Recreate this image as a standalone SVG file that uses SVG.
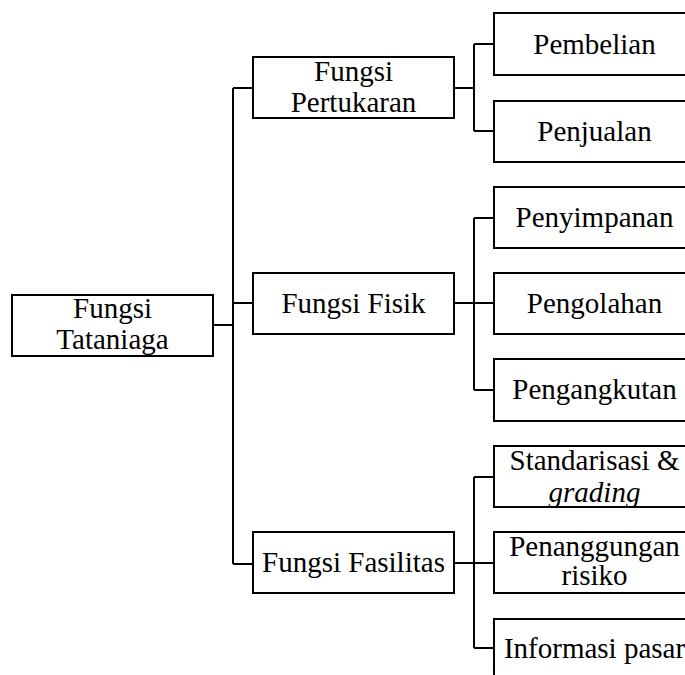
<svg xmlns="http://www.w3.org/2000/svg" width="685" height="675" viewBox="0 0 685 675">
<style>
.box{fill:#fff;stroke:#000;stroke-width:2}
.ln{fill:none;stroke:#000;stroke-width:2}
text{font-size:29px;fill:#000;text-anchor:middle}
.it{font-style:italic}
</style>
<rect width="685" height="675" fill="#fff"/>
<g id="connectors">
<path class="ln" d="M213,325H233M233,88V564M233,88H253M233,303H253M233,564H253"/>
<path class="ln" d="M454,88H474M474,44V131M474,44H494M474,131H494"/>
<path class="ln" d="M454,303H494M474,218V390M474,218H494M474,390H494"/>
<path class="ln" d="M454,563H494M474,477V648M474,477H494M474,648H494"/>
</g>
<g font-family="Liberation Serif, Times New Roman, serif">
<g id="n-tataniaga"><rect class="box" x="12" y="295" width="201" height="61"/><text x="112.5" y="318">Fungsi</text><text x="112.5" y="349">Tataniaga</text></g>
<g id="n-pertukaran"><rect class="box" x="253" y="57" width="201" height="61"/><text x="353.5" y="81">Fungsi</text><text x="353.5" y="111.5">Pertukaran</text></g>
<g id="n-fisik"><rect class="box" x="253" y="273" width="201" height="61"/><text x="353.5" y="313">Fungsi Fisik</text></g>
<g id="n-fasilitas"><rect class="box" x="253" y="532" width="201" height="61"/><text x="353.5" y="572">Fungsi Fasilitas</text></g>
<g id="n-pembelian"><rect class="box" x="494" y="13" width="201" height="62"/><text x="594.5" y="53.5">Pembelian</text></g>
<g id="n-penjualan"><rect class="box" x="494" y="101" width="201" height="61"/><text x="594.5" y="140.5">Penjualan</text></g>
<g id="n-penyimpanan"><rect class="box" x="494" y="187" width="201" height="61"/><text x="594.5" y="227">Penyimpanan</text></g>
<g id="n-pengolahan"><rect class="box" x="494" y="273" width="201" height="61"/><text x="594.5" y="313">Pengolahan</text></g>
<g id="n-pengangkutan"><rect class="box" x="494" y="359" width="201" height="62"/><text x="594.5" y="399">Pengangkutan</text></g>
<g id="n-standarisasi"><rect class="box" x="494" y="446" width="201" height="61"/><text x="594.5" y="470">Standarisasi &amp;</text><text class="it" x="594.5" y="501.5">grading</text></g>
<g id="n-penanggungan"><rect class="box" x="494" y="532" width="201" height="61"/><text x="594.5" y="556">Penanggungan</text><text x="594.5" y="585">risiko</text></g>
<g id="n-informasi"><rect class="box" x="494" y="619" width="201" height="62"/><text x="594.5" y="658">Informasi pasar</text></g>
</g>
</svg>
